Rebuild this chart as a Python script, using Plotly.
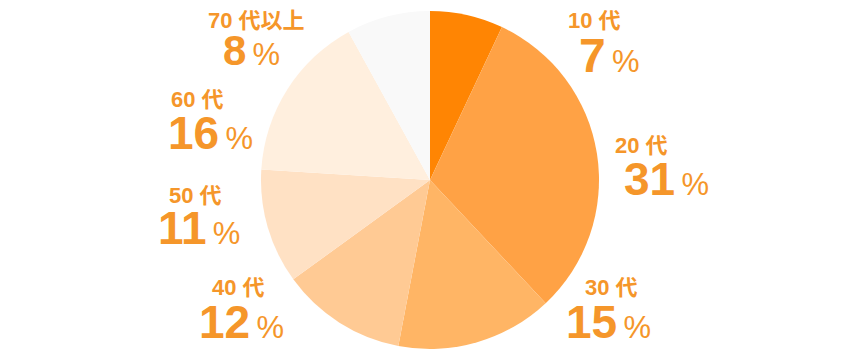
import plotly.graph_objects as go

# ---- data ----
categories = ["10 代", "20 代", "30 代", "40 代", "50 代", "60 代", "70 代以上"]
shares = [7, 31, 15, 12, 11, 16, 8]

# ---- styles / layout ----
colors = ["#FF8503", "#FFA245", "#FFB565", "#FFCA94", "#FFE1C4", "#FFEFDE", "#F9F9F9"]
text_color = "#F5962A"
W, H = 860, 360
cx, cy, r = 430, 180, 169

# label positions (pixel centres): top line, value line
label_top = [(594, 20), (641, 145), (611, 287), (238, 287), (195, 195), (197, 99), (256, 20)]
label_val = [(609, 55), (666, 179), (608, 322), (241, 322), (199, 228), (210, 133), (251, 51)]
val_sizes = [48, 46, 46, 46, 46, 46, 42]

fig = go.Figure(go.Pie(
    labels=categories,
    values=shares,
    sort=False,
    direction="clockwise",
    rotation=0,
    marker=dict(colors=colors, line=dict(width=0)),
    textinfo="none",
    hoverinfo="label+percent",
    domain=dict(x=[(cx - r) / W, (cx + r) / W], y=[1 - (cy + r) / H, 1 - (cy - r) / H]),
))

ann = []
for cat, v, (tx, ty), (vx, vy), vs in zip(categories, shares, label_top, label_val, val_sizes):
    ann.append(dict(
        x=tx / W, y=1 - ty / H, xref="paper", yref="paper",
        xanchor="center", yanchor="middle", showarrow=False,
        text=f"<b>{cat}</b>",
        font=dict(family="Liberation Sans, Noto Sans CJK JP", size=22, color=text_color),
    ))
    ann.append(dict(
        x=vx / W, y=1 - vy / H, xref="paper", yref="paper",
        xanchor="center", yanchor="middle", showarrow=False,
        text=f"<b>{v}</b><span style='font-size:31px'>\u2009%</span>",
        font=dict(family="Liberation Sans, Noto Sans CJK JP", size=vs, color=text_color),
    ))

fig.update_layout(
    width=W, height=H,
    margin=dict(l=0, r=0, t=0, b=0),
    paper_bgcolor="white", plot_bgcolor="white",
    showlegend=False,
    annotations=ann,
)

fig.write_html("out.html")
